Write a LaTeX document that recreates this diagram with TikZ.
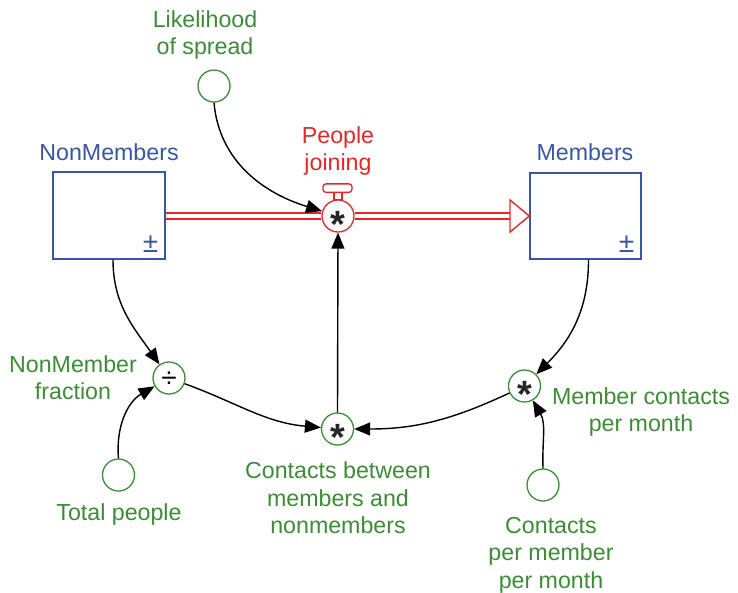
\documentclass[tikz,border=0pt]{standalone}
\usepackage{fontspec}
\setmainfont{Liberation Sans}
\usetikzlibrary{arrows.meta,calc}
\definecolor{cblue}{HTML}{3A55A4}
\definecolor{cgreen}{HTML}{3D8B37}
\definecolor{cred}{HTML}{E8262A}
\tikzset{
  stock/.style={draw=cblue, line width=1.3pt, minimum width=112pt, minimum height=87pt, inner sep=0pt},
  aux/.style={circle, draw=cgreen, line width=1.3pt, minimum size=32pt, inner sep=0pt},
  valvecirc/.style={circle, draw=cred, line width=1.3pt, fill=white, minimum size=32pt, inner sep=0pt},
  lbl/.style={align=center, inner sep=0pt},
  sym/.style={inner sep=0pt, anchor=base},
  star/.style={sym, font=\fontsize{38}{38}\selectfont\bfseries, text=black!85},
  conn/.style={draw=black, line width=1.4pt, -{Triangle[length=16pt,width=13pt]}},
  pipe/.style={draw=cred, line width=1.4pt, double=white, double distance=4.5pt},
}
\begin{document}
\begin{tikzpicture}[x=1pt,y=1pt, font=\fontsize{23.2}{27.5}\selectfont]
\useasboundingbox (0,0) rectangle (738,-592);

% stocks
\node[stock] (nm) at (109,-215.5) {};
\node[stock, minimum width=111pt, minimum height=86pt] (mb) at (585.5,-216) {};
\node[lbl, text=cblue] (nml) at (109,-152) {NonMembers};
\node[lbl, text=cblue] (mbl) at (585,-152) {Members};
\node[sym, text=cblue, font=\fontsize{28}{28}\selectfont] (nmpm) at ($(nm.south east)+(-15,7)$) {±};
\node[sym, text=cblue, font=\fontsize{28}{28}\selectfont] (mbpm) at ($(mb.south east)+(-15,7)$) {±};

% valve
\node[valvecirc] (valve) at (338,-216) {};
\draw[pipe] (nm.east |- valve.center) -- (valve.west);
\coordinate (abase) at (510,-216);
\draw[pipe] (valve.east) -- (abase);
\draw[cred, line width=1.4pt, fill=white, line join=miter]
  ($(abase)+(0,16)$) -- (mb.west) -- ($(abase)+(0,-16)$) -- cycle;
\draw[cred, line width=1.3pt, fill=white] ($(valve.north)+(-4,0)$) rectangle ($(valve.north)+(4,7)$);
\draw[cred, line width=1.3pt, fill=white, rounded corners=3pt] ($(valve.north)+(-15,7)$) rectangle ($(valve.north)+(14,15.5)$);
\node[star] (vs) at ($(valve.center)+(0,-21.5)$) {*};
\node[lbl, text=cred] (vl) at (338,-151) {People\\joining};

% auxiliaries
\node[aux] (lik) at (214,-86) {};
\node[lbl, text=cgreen] (likl) at (205,-35) {Likelihood\\of spread};
\node[aux] (frac) at (169,-378) {};
\node[sym, font=\fontsize{28}{28}\selectfont] (fracs) at ($(frac.center)+(0,-9.5)$) {÷};
\node[lbl, text=cgreen] (fracl) at (73,-377.5) {NonMember\\fraction};
\node[aux] (cbm) at (337.5,-429) {};
\node[star] (cbms) at ($(cbm.center)+(0,-21.5)$) {*};
\node[lbl, text=cgreen] (cbml) at (338,-498) {Contacts between\\members and\\nonmembers};
\node[aux] (mcpm) at (524.5,-386) {};
\node[star] (mcpms) at ($(mcpm.center)+(0,-21.5)$) {*};
\node[lbl, text=cgreen] (mcpml) at (641,-412) {Member contacts\\per month};
\node[aux] (tp) at (118.5,-475) {};
\node[lbl, text=cgreen] (tpl) at (119,-514) {Total people};
\node[aux] (cpm) at (543,-485) {};
\node[lbl, text=cgreen] (cpml) at (551,-555) {Contacts\\per member\\per month};

% connectors
\draw[conn] (lik.south) to[out=-85, in=163] (valve);
\draw[conn] ($(nm.south)+(4,0)$) to[out=-90, in=125] (frac);
\draw[conn] (tp.north) to[out=95, in=210] (frac);
\draw[conn] (frac) to[out=-20, in=175] (cbm);
\draw[conn] (mcpm) to[out=205, in=0] (cbm);
\draw[conn] ($(mb.south)+(3,0)$) to[out=-90, in=45] (mcpm);
\draw[conn] (cpm.north) to[out=92, in=-60] (mcpm);
\draw[conn] (cbm.north) -- (valve.south);
\end{tikzpicture}
\end{document}
